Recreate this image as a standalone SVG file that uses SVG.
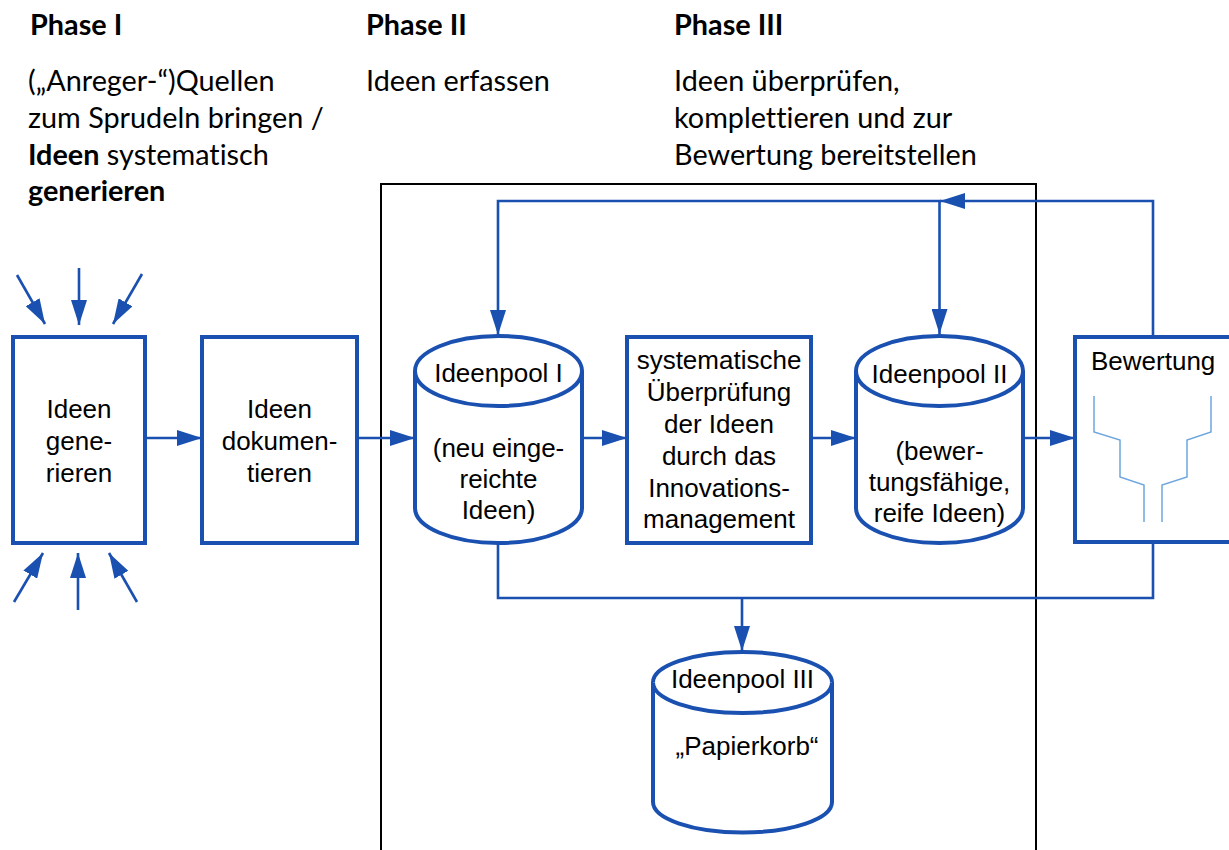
<svg xmlns="http://www.w3.org/2000/svg" width="1229" height="850" viewBox="0 0 1229 850">
  <defs>
    <marker id="arrow" markerUnits="userSpaceOnUse" markerWidth="25" markerHeight="16" refX="25" refY="8" orient="auto">
      <path d="M0,0 L25,8 L0,16 Z" fill="#1a50b0"/>
    </marker>
    <style>
      .hdr { font-family: Lato, "Open Sans", sans-serif; font-size: 28.8px; fill: #000; font-variant-ligatures: none; }
      .b { font-weight: bold; }
      .lbl { font-family: "Liberation Sans", Arial, sans-serif; font-size: 26px; fill: #000; text-anchor: middle; }
      .node { fill: #fff; stroke: #1a50b0; stroke-width: 4; }
      .conn { fill: none; stroke: #1a50b0; stroke-width: 2.6; }
      .funnel { fill: none; stroke: #6ea6de; stroke-width: 1.5; }
    </style>
  </defs>
  <rect width="1229" height="850" fill="#fff"/>

  <!-- phase headings -->
  <g id="phase1">
    <text class="hdr b" x="30" y="35">Phase I</text>
    <text class="hdr" x="28" y="91">(„Anreger-“)Quellen</text>
    <text class="hdr" x="28" y="128">zum Sprudeln bringen /</text>
    <text class="hdr" x="28" y="165"><tspan class="b">Ideen</tspan> systematisch</text>
    <text class="hdr b" x="28" y="201">generieren</text>
  </g>
  <g id="phase2">
    <text class="hdr b" x="366" y="35">Phase II</text>
    <text class="hdr" x="366" y="91">Ideen erfassen</text>
  </g>
  <g id="phase3">
    <text class="hdr b" x="674" y="35">Phase III</text>
    <text class="hdr" x="674" y="91">Ideen überprüfen,</text>
    <text class="hdr" x="674" y="128">komplettieren und zur</text>
    <text class="hdr" x="674" y="165">Bewertung bereitstellen</text>
  </g>

  <!-- frame around phases II and III -->
  <rect id="frame" x="381" y="184" width="655" height="700" fill="none" stroke="#000" stroke-width="2"/>

  <!-- connectors -->
  <g id="connectors">
    <path class="conn" d="M17,275 L45,324" marker-end="url(#arrow)"/>
    <path class="conn" d="M79,268 L79,325" marker-end="url(#arrow)"/>
    <path class="conn" d="M142,274 L113,324" marker-end="url(#arrow)"/>
    <path class="conn" d="M14,602 L43,553" marker-end="url(#arrow)"/>
    <path class="conn" d="M78,610 L78,553" marker-end="url(#arrow)"/>
    <path class="conn" d="M137,602 L109,553" marker-end="url(#arrow)"/>

    <path class="conn" d="M145,438 H202" marker-end="url(#arrow)"/>
    <path class="conn" d="M357,438 H415" marker-end="url(#arrow)"/>
    <path class="conn" d="M582,438 H627" marker-end="url(#arrow)"/>
    <path class="conn" d="M811,438 H856" marker-end="url(#arrow)"/>
    <path class="conn" d="M1023,438 H1075" marker-end="url(#arrow)"/>

    <path class="conn" d="M1153,336 V201 H940" marker-end="url(#arrow)"/>
    <path class="conn" d="M941,201 H498 V335" marker-end="url(#arrow)"/>
    <path class="conn" d="M939.5,201 V334" marker-end="url(#arrow)"/>

    <path class="conn" d="M498,543 V598 H1153 V541"/>
    <path class="conn" d="M742,598 V651" marker-end="url(#arrow)"/>
  </g>

  <!-- Ideen generieren -->
  <g id="generieren">
    <rect class="node" x="13" y="337" width="132" height="206"/>
    <text class="lbl" x="79" y="418">Ideen</text>
    <text class="lbl" x="79" y="450">gene-</text>
    <text class="lbl" x="79" y="482">rieren</text>
  </g>

  <!-- Ideen dokumentieren -->
  <g id="dokumentieren">
    <rect class="node" x="202" y="337" width="155" height="206"/>
    <text class="lbl" x="279.5" y="418">Ideen</text>
    <text class="lbl" x="279.5" y="450">dokumen-</text>
    <text class="lbl" x="279.5" y="482">tieren</text>
  </g>

  <!-- Ideenpool I -->
  <g id="pool1">
    <path class="node" d="M415,371 A83.5,35 0 0 1 582,371 V508 A83.5,35 0 0 1 415,508 Z"/>
    <path class="node" d="M415,371 A83.5,35 0 0 0 582,371" fill="none"/>
    <text class="lbl" x="498.5" y="382">Ideenpool I</text>
    <text class="lbl" x="498.5" y="457">(neu einge-</text>
    <text class="lbl" x="498.5" y="488">reichte</text>
    <text class="lbl" x="498.5" y="519">Ideen)</text>
  </g>

  <!-- systematische Überprüfung -->
  <g id="pruefung">
    <rect class="node" x="627" y="337" width="184" height="206"/>
    <text class="lbl" x="719" y="369">systematische</text>
    <text class="lbl" x="719" y="401">Überprüfung</text>
    <text class="lbl" x="719" y="433">der Ideen</text>
    <text class="lbl" x="719" y="465">durch das</text>
    <text class="lbl" x="719" y="497">Innovations-</text>
    <text class="lbl" x="719" y="528">management</text>
  </g>

  <!-- Ideenpool II -->
  <g id="pool2">
    <path class="node" d="M856,371 A83.5,35 0 0 1 1023,371 V508 A83.5,35 0 0 1 856,508 Z"/>
    <path class="node" d="M856,371 A83.5,35 0 0 0 1023,371" fill="none"/>
    <text class="lbl" x="939.5" y="383">Ideenpool II</text>
    <text class="lbl" x="939.5" y="460">(bewer-</text>
    <text class="lbl" x="939.5" y="491">tungsfähige,</text>
    <text class="lbl" x="939.5" y="522">reife Ideen)</text>
  </g>

  <!-- Bewertung with funnel -->
  <g id="bewertung">
    <rect class="node" x="1075" y="337" width="170" height="205"/>
    <text class="lbl" x="1091" y="370" style="text-anchor:start">Bewertung</text>
    <path class="funnel" d="M1094,396 V432 L1120,440 V477 L1144,485 V522"/>
    <path class="funnel" d="M1211,396 V432 L1187,440 V477 L1162,485 V522"/>
  </g>

  <!-- Ideenpool III -->
  <g id="pool3">
    <path class="node" d="M653,682.5 A89.5,30.5 0 0 1 832,682.5 V802 A89.5,30.5 0 0 1 653,802 Z"/>
    <path class="node" d="M653,682.5 A89.5,30.5 0 0 0 832,682.5" fill="none"/>
    <text class="lbl" x="742.5" y="688">Ideenpool III</text>
    <text class="lbl" x="747" y="755">„Papierkorb“</text>
  </g>
</svg>
